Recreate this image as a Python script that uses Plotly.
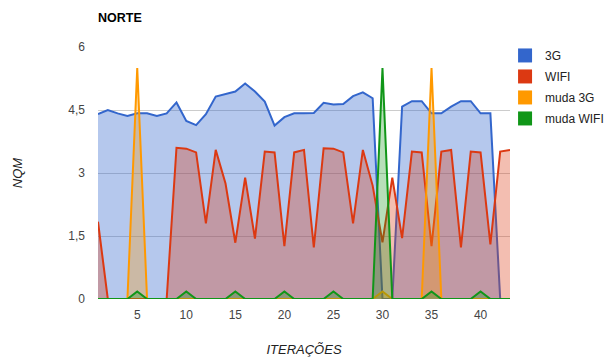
import plotly.graph_objects as go

iteracoes = list(range(1, 44))

nqm_3g = [4.40, 4.50, 4.42, 4.36, 4.42, 4.42, 4.36, 4.42, 4.68, 4.24,
          4.14, 4.40, 4.82, 4.88, 4.94, 5.13, 4.94, 4.70, 4.13, 4.33,
          4.42, 4.42, 4.43, 4.67, 4.63, 4.64, 4.83, 4.92, 4.78, 0.0,
          0.0, 4.58, 4.71, 4.71, 4.42, 4.42, 4.58, 4.71, 4.71, 4.42,
          4.42, 0.0, 0.0]

nqm_wifi = [1.84, 0.0, 0.0, 0.0, 0.0, 0.0, 0.0, 0.0, 3.60, 3.58,
            3.49, 1.80, 3.55, 2.75, 1.34, 2.89, 1.44, 3.51, 3.49, 1.26,
            3.49, 3.55, 1.23, 3.59, 3.58, 3.49, 1.80, 3.55, 2.70, 1.35,
            2.89, 1.45, 3.51, 3.49, 1.26, 3.51, 3.55, 1.23, 3.51, 3.49,
            1.30, 3.51, 3.55]

muda_3g = [0.0] * 43
muda_3g[4] = 5.5
muda_3g[29] = 0.18
muda_3g[34] = 5.5

muda_wifi = [0.0] * 43
for i in (5, 10, 15, 20, 25, 35, 40):
    muda_wifi[i - 1] = 0.18
muda_wifi[29] = 5.5

series = [
    ("3G", nqm_3g, "#3366cc", "rgba(51,102,204,0.36)"),
    ("WIFI", nqm_wifi, "#dc3912", "rgba(220,57,18,0.33)"),
    ("muda 3G", muda_3g, "#ff9900", "rgba(255,153,0,0.3)"),
    ("muda WIFI", muda_wifi, "#109618", "rgba(16,150,24,0.3)"),
]

y_ticks = [0, 1.5, 3, 4.5, 6]
y_tick_text = ["0", "1,5", "3", "4,5", "6"]
x_ticks = [5, 10, 15, 20, 25, 30, 35, 40]

fig = go.Figure()
for name, vals, col, fcol in series:
    fig.add_trace(go.Scatter(
        x=iteracoes, y=vals, mode="lines", name=name,
        line=dict(color=col, width=2), fill="tozeroy", fillcolor=fcol,
        showlegend=False, hoverinfo="x+y"))
for name, vals, col, fcol in series:
    fig.add_trace(go.Scatter(
        x=[None], y=[None], mode="markers", name=name, legendgroup=name,
        marker=dict(symbol="square", size=14, color=col), showlegend=True))

fig.update_layout(
    width=611, height=357,
    margin=dict(l=98, r=101, t=47, b=58, autoexpand=False),
    paper_bgcolor="white", plot_bgcolor="white",
    font=dict(family="Liberation Sans, Arial, sans-serif", size=12, color="#444"),
    title=dict(text="<b>NORTE</b>", x=98 / 611, xanchor="left", y=1 - 18 / 357,
               yanchor="middle", font=dict(size=12.5, color="#000")),
    xaxis=dict(range=[1, 43], tickvals=x_ticks, showgrid=False, zeroline=False,
               showline=False, ticks="", automargin=False, ticklabelstandoff=7,
               tickfont=dict(size=12, color="#444"),
               title=dict(text="<i>ITERAÇÕES</i>", font=dict(size=13, color="#222"),
                          standoff=24)),
    yaxis=dict(range=[0, 6], tickvals=y_ticks, ticktext=y_tick_text,
               showgrid=True, gridcolor="#cccccc", gridwidth=1, zeroline=False,
               showline=False, ticks="", ticklabelstandoff=12, automargin=False,
               tickfont=dict(size=12, color="#444"),
               title=dict(text="<i>NQM</i>", font=dict(size=13, color="#222"),
                          standoff=42)),
    legend=dict(x=0.988, y=1.024, xanchor="left", yanchor="top",
                font=dict(size=12, color="#222"), tracegroupgap=2,
                itemwidth=30, bgcolor="rgba(0,0,0,0)"),
    showlegend=True,
)

fig.write_html("out.html", config={"displayModeBar": False},
               post_script="document.body.style.margin='0';document.body.style.padding='0';")
